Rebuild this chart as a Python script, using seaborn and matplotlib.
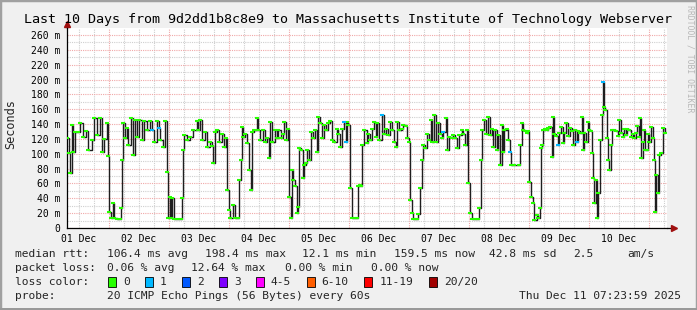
import numpy as np
import pandas as pd
import matplotlib
matplotlib.use("Agg")
import matplotlib.pyplot as plt
import matplotlib.dates as mdates
from matplotlib.ticker import MultipleLocator, FuncFormatter, NullFormatter
from matplotlib.patches import Rectangle
from matplotlib.lines import Line2D
import seaborn as sns

# ---------------- data ----------------
start_time = "2025-12-01 07:24"
step_minutes = 24  # one RRD row per 24 minutes, 600 rows = 10 days

sample_idx = [0, 2, 3, 5, 6, 8, 11, 13, 16, 19, 21, 25, 27, 30, 33, 35, 37, 40, 41, 42, 44, 46, 47, 50, 53, 54, 55, 56, 58, 60,
              61, 64, 66, 68, 70, 72, 75, 77, 80, 83, 85, 87, 90, 92, 93, 96, 98, 100, 101, 103, 104, 105, 107, 111, 114, 115, 116, 117, 120, 123,
              126, 130, 131, 133, 135, 138, 140, 143, 145, 146, 148, 150, 152, 155, 157, 159, 160, 162, 163, 166, 168, 171, 172, 174, 175, 176, 178, 180, 182, 184,
              185, 187, 190, 191, 193, 196, 198, 200, 202, 203, 205, 208, 210, 211, 214, 216, 217, 219, 221, 222, 224, 225, 226, 228, 230, 231, 232, 234, 236, 237,
              239, 240, 242, 244, 246, 248, 250, 251, 253, 255, 257, 259, 261, 263, 265, 267, 270, 271, 273, 275, 277, 279, 280, 281, 283, 285, 288, 290, 291, 293,
              294, 295, 297, 300, 301, 303, 305, 307, 309, 310, 312, 315, 317, 319, 321, 323, 325, 327, 329, 330, 332, 335, 336, 339, 340, 342, 343, 345, 346, 348,
              350, 351, 353, 355, 356, 358, 360, 362, 364, 365, 367, 369, 371, 373, 375, 376, 379, 380, 382, 385, 386, 388, 390, 392, 395, 396, 398, 400, 401, 403,
              405, 408, 411, 412, 414, 415, 417, 419, 421, 423, 425, 426, 428, 430, 431, 433, 435, 436, 437, 440, 441, 443, 444, 447, 452, 453, 455, 456, 458, 460,
              461, 462, 464, 466, 467, 470, 471, 473, 474, 475, 476, 478, 480, 481, 483, 485, 486, 487, 489, 491, 492, 494, 496, 497, 499, 501, 503, 505, 506, 508,
              510, 511, 513, 515, 516, 517, 519, 521, 522, 524, 525, 526, 527, 529, 530, 531, 533, 535, 536, 537, 538, 540, 541, 542, 544, 545, 547, 549, 551, 552,
              554, 556, 557, 559, 560, 562, 564, 566, 567, 569, 570, 572, 573, 574, 576, 577, 578, 580, 581, 582, 584, 586, 587, 588, 589, 591, 592, 594, 596, 598]

median_ms = [121, 101, 74, 139, 102, 129, 129, 141, 123, 130, 105, 118, 148, 125, 148, 102, 120, 141, 97, 22, 13, 34, 13, 12, 12, 27, 92, 141, 121, 135,
             112, 148, 98, 145, 123, 145, 118, 144, 132, 144, 132, 116, 144, 135, 118, 109, 144, 75, 13, 42, 13, 40, 12, 12, 12, 41, 105, 125, 118, 123,
             132, 144, 132, 145, 118, 129, 109, 116, 110, 87, 129, 132, 116, 127, 109, 121, 51, 24, 13, 31, 13, 13, 65, 92, 136, 123, 127, 114, 78, 51,
             129, 132, 148, 132, 118, 132, 116, 121, 94, 143, 116, 132, 121, 132, 121, 127, 143, 118, 134, 42, 13, 78, 65, 56, 20, 28, 108, 105, 67, 85,
             87, 105, 92, 129, 121, 132, 102, 150, 141, 121, 139, 132, 141, 144, 118, 116, 134, 127, 109, 134, 143, 116, 143, 139, 54, 13, 13, 13, 56, 58,
             56, 112, 132, 114, 127, 118, 134, 143, 123, 141, 118, 152, 127, 134, 125, 143, 132, 116, 109, 143, 132, 134, 139, 137, 121, 116, 38, 20, 12, 12,
             12, 19, 54, 92, 112, 108, 127, 118, 145, 116, 152, 116, 141, 127, 121, 129, 148, 105, 123, 121, 125, 121, 108, 125, 132, 127, 112, 132, 60, 20,
             12, 12, 12, 27, 92, 132, 145, 127, 150, 125, 134, 109, 132, 105, 125, 85, 139, 102, 132, 134, 118, 102, 85, 85, 85, 112, 141, 132, 130, 128,
             130, 62, 42, 34, 11, 18, 13, 27, 108, 112, 132, 134, 132, 135, 136, 96, 150, 126, 124, 112, 128, 136, 114, 128, 141, 124, 135, 130, 112, 132,
             116, 130, 128, 150, 105, 128, 116, 143, 132, 130, 101, 67, 34, 65, 13, 47, 118, 152, 197, 163, 159, 121, 92, 78, 112, 132, 132, 130, 124, 145,
             128, 123, 134, 125, 134, 132, 123, 126, 121, 128, 137, 123, 148, 94, 116, 132, 105, 105, 126, 116, 136, 121, 92, 22, 71, 47, 98, 101, 135, 128]

loss1_samples = [85, 92, 277, 279, 315, 376, 443, 491, 510, 536]

stat_rtt = ["106.4 ms avg", "198.4 ms max", "12.1 ms min", "159.5 ms now", "42.8 ms sd", "2.5", "am/s"]
stat_loss = ["0.06 % avg", "12.64 % max", "0.00 % min", "0.00 % now"]
loss_labels = ["0", "1", "2", "3", "4-5", "6-10", "11-19", "20/20"]
loss_colors = ["#26ff00", "#00b8ff", "#0059ff", "#7e00ff", "#ff00ff", "#ff5e00", "#ff0000", "#a10000"]
title = "Last 10 Days from 9d2dd1b8c8e9 to Massachusetts Institute of Technology Webserver"
probe_text = "20 ICMP Echo Pings (56 Bytes) every 60s"
stamp_text = "Thu Dec 11 07:23:59 2025"

# ---------------- build frame ----------------
t0 = pd.Timestamp(start_time)
times = t0 + pd.to_timedelta(np.array(sample_idx) * step_minutes, unit="min")
df = pd.DataFrame({"time": times, "rtt": median_ms})
df["loss"] = np.where(np.isin(sample_idx, loss1_samples), 1, 0)

sns.set_theme(style="white")
plt.rcParams["font.family"] = ["DejaVu Sans Mono", "DejaVu Sans"]

W, H = 697, 310
fig = plt.figure(figsize=(W / 100, H / 100), dpi=100, facecolor="#f0f0f0")
ax = fig.add_axes([67 / W, (H - 228) / H, 600 / W, 200 / H])
ax.set_facecolor("white")

# grid
ax.xaxis.set_major_locator(mdates.DayLocator())
ax.xaxis.set_major_formatter(NullFormatter())
ax.xaxis.set_minor_locator(mdates.HourLocator(byhour=[6, 12, 18]))
ax.xaxis.set_minor_formatter(FuncFormatter(
    lambda v, p: mdates.num2date(v).strftime("%d %b") if mdates.num2date(v).hour == 12 else ""))
ax.yaxis.set_major_locator(MultipleLocator(20))
ax.yaxis.set_minor_locator(MultipleLocator(10))
ax.yaxis.set_major_formatter(FuncFormatter(lambda v, p: "0" if v == 0 else f"{v:.0f} m"))

ax.grid(which="major", color="#f0a8a8", linestyle=(0, (1, 1)), linewidth=0.8)
ax.grid(which="minor", color="#cfcfcf", linestyle=(0, (1, 1)), linewidth=0.8)
ax.set_axisbelow(True)
ax.tick_params(which="both", length=0, labelsize=7.0, colors="#000000")
ax.tick_params(axis="x", which="minor", pad=4)
ax.tick_params(axis="y", pad=5)

# data
sns.lineplot(data=df, x="time", y="rtt", ax=ax, color="#1e1e1e", linewidth=1.0,
             drawstyle="steps-post", estimator=None, sort=True, legend=False)
for lv, col in [(0, loss_colors[0]), (1, loss_colors[1])]:
    sub = df[df["loss"] == lv]
    ax.plot(sub["time"], sub["rtt"], ls="none", marker="_", ms=3.2, mew=1.5, color=col, zorder=3)

ax.set_xlim(t0, t0 + pd.Timedelta(minutes=600 * step_minutes))
ax.set_ylim(0, 269.4)
ax.set_xlabel("")
ax.set_ylabel("")

for s in ["top", "right"]:
    ax.spines[s].set_visible(False)
for s in ["left", "bottom"]:
    ax.spines[s].set_color("#000000")
    ax.spines[s].set_linewidth(0.9)

# axis arrows
ax.add_line(Line2D([1.0, 1.008], [0, 0], transform=ax.transAxes, color="black", lw=0.9, clip_on=False))
ax.plot([1.011], [0], transform=ax.transAxes, marker=">", ms=4.5, color="#a01010", clip_on=False)
ax.add_line(Line2D([0, 0], [1.0, 1.015], transform=ax.transAxes, color="black", lw=0.9, clip_on=False))
ax.plot([0], [1.02], transform=ax.transAxes, marker="^", ms=4.5, color="#a01010", clip_on=False)

def fx(px):
    return px / W

def fy(py):
    return 1 - py / H

small = 8.1
fig.text(0.5, fy(19), title, ha="center", va="center", fontsize=9.6, color="#000000")
fig.text(fx(11), fy(124), "Seconds", rotation=90, ha="center", va="center", fontsize=8.6)
fig.text(fx(690), fy(5), "RRDTOOL / TOBI OETIKER", rotation=-90, ha="center", va="top",
         fontsize=5.9, color="#b8b8b8")

# legend rows
fig.text(fx(15), fy(254), "median rtt:", ha="left", va="center", fontsize=small)
for txt, px in zip(stat_rtt, [107, 205, 302, 394, 489, 573, 627]):
    fig.text(fx(px), fy(254), txt, ha="left", va="center", fontsize=small)
fig.text(fx(15), fy(268), "packet loss:", ha="left", va="center", fontsize=small)
for txt, px in zip(stat_loss, [107, 191, 285, 371]):
    fig.text(fx(px), fy(268), txt, ha="left", va="center", fontsize=small)
fig.text(fx(15), fy(282), "loss color:", ha="left", va="center", fontsize=small)
cw = 6.95
bx = 108
for lab, col in zip(loss_labels, loss_colors):
    fig.patches.append(Rectangle((fx(bx), fy(287)), 8 / W, 10 / H, transform=fig.transFigure,
                                 facecolor=col, edgecolor="black", linewidth=0.6))
    fig.text(fx(bx + 15), fy(282), lab, ha="left", va="center", fontsize=small)
    bx += 30 + len(lab) * cw
fig.text(fx(15), fy(296), "probe:", ha="left", va="center", fontsize=small)
fig.text(fx(107), fy(296), probe_text, ha="left", va="center", fontsize=small)
fig.text(fx(681), fy(296), stamp_text, ha="right", va="center", fontsize=small)

# frame
fig.patches.append(Rectangle((0, 0), 1, 1, transform=fig.transFigure, fill=False,
                             edgecolor="#a0a0a0", linewidth=2.5))
fig.patches.append(Rectangle((0, 0), 1, 2 / H, transform=fig.transFigure,
                             facecolor="#999999", edgecolor="none"))

fig.savefig("out.png", dpi=100, facecolor=fig.get_facecolor())
